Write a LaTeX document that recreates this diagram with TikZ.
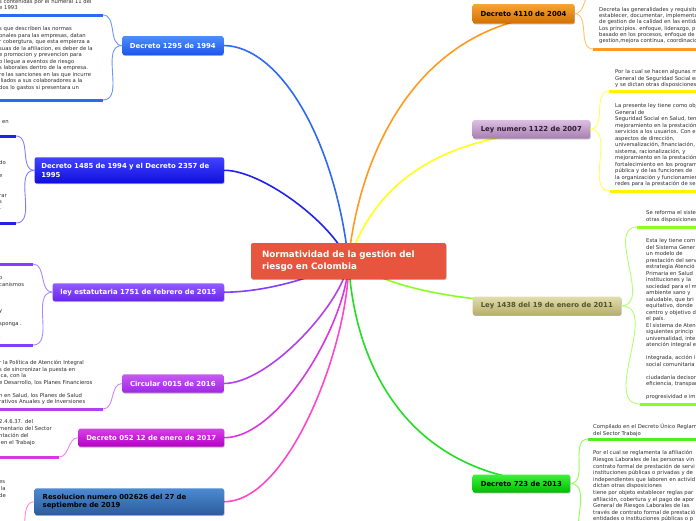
\documentclass[tikz,border=0pt]{standalone}
\usepackage{fontspec}
\setmainfont{DejaVu Sans}
\usetikzlibrary{shadows,backgrounds}
% main branch colours
\definecolor{cen}{HTML}{E8553E}
\definecolor{m1295}{HTML}{2A6AF5}\definecolor{t1295}{HTML}{4F8DFF}\definecolor{b1295}{HTML}{1C56E6}\definecolor{l1295}{HTML}{6A96FF}
\definecolor{m1485}{HTML}{2222E8}\definecolor{t1485}{HTML}{4242FF}\definecolor{b1485}{HTML}{0E0EDC}\definecolor{l1485}{HTML}{8080FF}
\definecolor{m1751}{HTML}{8040FF}\definecolor{t1751}{HTML}{915CFF}\definecolor{b1751}{HTML}{6A24EE}\definecolor{l1751}{HTML}{A98AFF}
\definecolor{m0015}{HTML}{B040F0}\definecolor{t0015}{HTML}{C65AF5}\definecolor{b0015}{HTML}{A226E0}\definecolor{l0015}{HTML}{CC84F2}
\definecolor{m052}{HTML}{D838E4}\definecolor{t052}{HTML}{D840E6}\definecolor{b052}{HTML}{B400C4}\definecolor{l052}{HTML}{EC84F0}
\definecolor{mres}{HTML}{FF48C8}\definecolor{tres}{HTML}{4C8AD2}\definecolor{bres}{HTML}{2C5C9C}\definecolor{lres}{HTML}{FF86DE}
\definecolor{m4110}{HTML}{FF9A1E}\definecolor{t4110}{HTML}{F7A534}\definecolor{b4110}{HTML}{D27000}\definecolor{l4110}{HTML}{FFC46A}
\definecolor{m1122}{HTML}{FFFF1A}\definecolor{t1122}{HTML}{DCC0E2}\definecolor{b1122}{HTML}{A77FB0}\definecolor{l1122}{HTML}{FFFF60}
\definecolor{m1438}{HTML}{88FF22}\definecolor{t1438}{HTML}{E2DEAC}\definecolor{b1438}{HTML}{B5AE6C}\definecolor{l1438}{HTML}{B0FF70}
\definecolor{m723}{HTML}{22DD22}\definecolor{t723}{HTML}{3CF23C}\definecolor{b723}{HTML}{00BE00}\definecolor{l723}{HTML}{90FF50}\definecolor{u723}{HTML}{50F020}
\definecolor{txtgray}{HTML}{2B2B2B}
\begin{document}
\begin{tikzpicture}[x=1pt,y=-1pt,
  mainbox/.style={rounded corners=2pt, inner sep=0pt,
    font=\fontsize{6.9}{8.3}\selectfont\bfseries,
    drop shadow={shadow xshift=0.6pt, shadow yshift=-0.9pt, opacity=0.3, fill=black}},
  txt/.style={anchor=north west, align=left, inner sep=0pt,
    font=\fontsize{5.3}{6.5}\selectfont, text=txtgray},
  mc/.style={line width=1.6pt},
  cc/.style={line width=0.9pt},
  ul/.style={line width=3pt}]
\useasboundingbox (0,0) rectangle (696,520);
\clip (0,0) rectangle (696,520);

% central node
\node[mainbox, fill=cen, text=white, minimum width=195pt, minimum height=36pt,
  text width=173pt, align=left, font=\fontsize{8.8}{12}\selectfont\bfseries] (cen) at (348.5,261)
  {Normatividad de la gestión del\\riesgo en Colombia};

% left main nodes
\node[mainbox, top color=t1295, bottom color=b1295, text=white, minimum width=101pt, minimum height=19pt] (d1295) at (172.8,45.5) {Decreto 1295 de 1994};
\node[mainbox, top color=t1485, bottom color=b1485, text=white, minimum width=189.3pt, minimum height=26pt, text width=176pt, align=left] (d1485) at (129.3,170.3) {Decreto 1485 de 1994 y el Decreto 2357 de\\1995};
\node[mainbox, top color=t1751, bottom color=b1751, text=white, minimum width=171.3pt, minimum height=17.7pt] (d1751) at (138.3,292.2) {ley estatutaria 1751 de febrero de 2015};
\node[mainbox, top color=t0015, bottom color=b0015, text=white, minimum width=101pt, minimum height=18.4pt] (d0015) at (172.8,383.5) {Circular 0015 de 2016};
\node[mainbox, top color=t052, bottom color=b052, text=white, minimum width=145.7pt, minimum height=18pt] (d052) at (151.2,437.7) {Decreto 052 12 de enero de 2017};
\node[mainbox, top color=tres, bottom color=bres, text=black, minimum width=189.3pt, minimum height=26.7pt, text width=173.2pt, align=left] (dres) at (129.3,501.7) {Resolucion numero 002626 del 27 de\\septiembre de 2019};

% right main nodes
\node[mainbox, top color=t4110, bottom color=b4110, text=black, minimum width=101.6pt, minimum height=19.3pt] (d4110) at (523.5,13.7) {Decreto 4110 de 2004};
\node[mainbox, top color=t1122, bottom color=b1122, text={rgb,255:red,48;green,28;blue,52}, minimum width=117.3pt, minimum height=18.3pt] (d1122) at (531.3,129.2) {Ley numero 1122 de 2007};
\node[mainbox, top color=t1438, bottom color=b1438, text={rgb,255:red,85;green,82;blue,50}, minimum width=148.3pt, minimum height=18.3pt] (d1438) at (546.8,305.8) {Ley 1438 del 19 de enero de 2011};
\node[mainbox, top color=t723, bottom color=b723, text=black, minimum width=97.3pt, minimum height=18pt] (d723) at (521.3,483.5) {Decreto 723 de 2013};

% underline end points
\coordinate (u1295a) at (103,15);   \coordinate (u1295b) at (103,100);
\coordinate (u1485a) at (16,136);   \coordinate (u1485b) at (16,223);
\coordinate (u1751a) at (33,264);   \coordinate (u1751b) at (33,345);
\coordinate (u0015) at (103,409);
\coordinate (u052) at (59,457);
\coordinate (ures) at (15,540);
\coordinate (u4110a) at (595,-10);  \coordinate (u4110b) at (593,49);
\coordinate (u1122a) at (609,91);   \coordinate (u1122b) at (610,191);
\coordinate (u1438a) at (637,227);  \coordinate (u1438b) at (640,404);
\coordinate (u723a) at (588,439);   \coordinate (u723b) at (588,548);

% underlines
\draw[ul, m1295] (-2,15) -- (u1295a);  \draw[ul, m1295] (-2,100) -- (u1295b);
\draw[ul, m1485] (-2,136) -- (u1485a); \draw[ul, m1485] (-2,223) -- (u1485b);
\draw[ul, m1751] (-2,264) -- (u1751a); \draw[ul, m1751] (-2,345) -- (u1751b);
\draw[ul, m0015] (-2,409) -- (u0015);
\draw[ul, m052] (-2,457) -- (u052);
\draw[ul, m4110] (u4110b) -- (700,49);
\draw[ul, yellow] (u1122a) -- (700,91); \draw[ul, yellow] (u1122b) -- (700,191);
\draw[ul, m1438] (u1438a) -- (700,227); \draw[ul, m1438] (u1438b) -- (700,404);
\draw[ul, u723] (u723a) -- (700,439);

% child connectors
\draw[cc, l1295] (d1295.west) to[out=180,in=0] (u1295a);
\draw[cc, l1295] (d1295.west) to[out=180,in=0] (u1295b);
\draw[cc, l1485] (d1485.west) to[out=180,in=0] (u1485a);
\draw[cc, l1485] (d1485.west) to[out=180,in=0] (u1485b);
\draw[cc, l1751] (d1751.west) to[out=180,in=0] (u1751a);
\draw[cc, l1751] (d1751.west) to[out=180,in=0] (u1751b);
\draw[cc, l0015] (d0015.west) to[out=180,in=0] (u0015);
\draw[cc, l052] (d052.west) to[out=180,in=0] (u052);
\draw[cc, lres] (dres.west) to[out=180,in=0] (ures);
\draw[cc, l4110] (d4110.east) to[out=0,in=180] (u4110a);
\draw[cc, l4110] (d4110.east) to[out=0,in=180] (u4110b);
\draw[cc, l1122] (d1122.east) to[out=0,in=180] (u1122a);
\draw[cc, l1122] (d1122.east) to[out=0,in=180] (u1122b);
\draw[cc, l1438] (d1438.east) to[out=0,in=180] (u1438a);
\draw[cc, l1438] (d1438.east) to[out=0,in=180] (u1438b);
\draw[cc, l723] (d723.east) to[out=0,in=180] (u723a);
\draw[cc, l723] (d723.east) to[out=0,in=180] (u723b);

% child texts, left
\node[txt] (x1295a) at (-1,-0.8) {s contenidas por el numeral 11 del\\e 1993};
\node[txt] (x1295b) at (-1,26.4) {s que describen las normas\\onales para las empresas, datan\\r cobergtura, que esta empierza a\\suas de la afiliacion, es deber de la\\e promocion y prevencion para\\o llegue a eventos de riesgo\\s laborales dentro de la empresa.\\re las sanciones en las que incurre\\iliados a sus colaboradores a la\\dos lo gastos si presentara un};
\node[txt] (x1485a) at (2,120.4) {en};
\node[txt] (x1485b) at (-1,160.4) {do\\\mbox{}\\e\\\mbox{}\\\mbox{}\\rar\\s\\-};
\node[txt] (x1751b) at (-1,276.4) {o\\canismos\\\mbox{}\\\mbox{}\\\mbox{}\\y\\\mbox{}\\sponga .\\\mbox{}\\.};
\node[txt] (x0015) at (-1,360.4) {r la Política de Atención Integral\\s de sincronizar la puesta en\\ica, con la\\e Desarrollo, los Planes Financieros\\\mbox{}\\n en Salud, los Planes de Salud\\rativos Anuales y de Inversiones};
\node[txt, font=\fontsize{5.3}{7}\selectfont] (x052) at (-1,419.7) {2.4.6.37. del\\mentario del Sector\\ntación del\\\ en el Trabajo};
\node[txt, font=\fontsize{5.3}{7}\selectfont] (xres) at (-1,480.4) {es\\\ la\\de};

% child texts, right
\node[txt, font=\fontsize{5.3}{6.15}\selectfont] (x4110b) at (599,7.4) {Decreta las generalidades y requisitos\\establecer, documentar, implementar\\de gestion de la calidad en las entidades\\Los principios. enfoque, liderazgo, p\\basado en los procesos, enfoque de\\gestion,mejora continua, coordinacion};
\node[txt] (x1122a) at (615,69.4) {Por la cual se hacen algunas mo\\General de Seguridad Social en\\y se dictan otras disposiciones};
\node[txt] (x1122b) at (615,103.4) {La presente ley tiene como obj\\General de\\Seguridad Social en Salud, ten\\mejoramiento en la prestación\\servicios a los usuarios. Con es\\aspectos de dirección,\\universalización, financiación,\\sistema, racionalización, y\\mejoramiento en la prestación\\fortalecimiento en los program\\pública y de las funciones de\\la organización y funcionamien\\redes para la prestación de se};
\node[txt, font=\fontsize{5.3}{7}\selectfont] (x1438a) at (646,210.4) {Se reforma el siste\\otras disposiciones};
\node[txt] (x1438b) at (646,238.4) {Esta ley tiene com\\del Sistema Gener\\un modelo de\\prestación del serv\\estrategia Atenció\\Primaria en Salud\\instituciones y la\\sociedad para el m\\ambiente sano y\\saludable, que bri\\equitativo, donde\\centro y objetivo d\\el país.\\El sistema de Aten\\siguientes princip\\universalidad, inte\\atención integral e\\\mbox{}\\integrada, acción i\\social comunitaria\\\mbox{}\\ciudadanía decisor\\eficiencia, transpar\\\mbox{}\\progresividad e im};
\node[txt, font=\fontsize{5.3}{7}\selectfont] (x723a) at (593,423.4) {Compilado en el Decreto Único Reglam\\del Sector Trabajo};
\node[txt, font=\fontsize{5.3}{6.6}\selectfont] (x723b) at (593,450.4) {Por el cual se reglamenta la afiliación\\Riesgos Laborales de las personas vin\\contrato formal de prestación de servi\\instituciones públicas o privadas y de\\independientes que laboren en activid\\dictan otras disposiciones\\tiene por objeto establecer reglas par\\afiliación, cobertura y el pago de apor\\General de Riesgos Laborales de las\\través de contrato formal de prestació\\entidades o instituciones públicas o p};

% main connectors behind nodes
\begin{pgfonlayer}{background}
\draw[mc, m1295] (cen.center) .. controls (335,140) and (280,46) .. (d1295.east);
\draw[mc, m1485] (cen.center) .. controls (330,220) and (260,170) .. (d1485.east);
\draw[mc, m1751] (cen.center) .. controls (320,275) and (270,292) .. (d1751.east);
\draw[mc, m0015] (cen.center) .. controls (345,300) and (270,384) .. (d0015.east);
\draw[mc, m052] (cen.center) .. controls (348,320) and (280,438) .. (d052.east);
\draw[mc, mres] (cen.center) .. controls (350,340) and (290,502) .. (dres.east);
\draw[mc, m4110] (cen.center) .. controls (358,160) and (415,14) .. (d4110.east);
\draw[mc, m1122] (cen.center) .. controls (370,200) and (420,129) .. (d1122.east);
\draw[mc, m1438] (cen.center) .. controls (380,280) and (430,306) .. (d1438.east);
\draw[mc, m723] (cen.center) .. controls (355,380) and (420,484) .. (d723.east);
\end{pgfonlayer}
\end{tikzpicture}
\end{document}
